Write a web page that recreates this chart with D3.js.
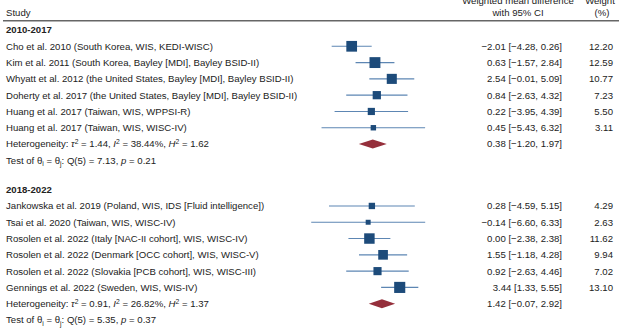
<!DOCTYPE html>
<html><head><meta charset="utf-8">
<script src="https://cdn.jsdelivr.net/npm/d3@7"></script>
<style>
html,body{margin:0;padding:0;background:#fff;}
svg text{font-family:"Liberation Sans",Arial,Helvetica,sans-serif;fill:#222;}
</style></head>
<body><svg id="c" width="619" height="335"></svg>
<script>
// ---- data ----
const groups = ["2010-2017", "2018-2022"];
const studies1 = [
  "Cho et al. 2010 (South Korea, WIS, KEDI-WISC)",
  "Kim et al. 2011 (South Korea, Bayley [MDI], Bayley BSID-II)",
  "Whyatt et al. 2012 (the United States, Bayley [MDI], Bayley BSID-II)",
  "Doherty et al. 2017 (the United States, Bayley [MDI], Bayley BSID-II)",
  "Huang et al. 2017 (Taiwan, WIS, WPPSI-R)",
  "Huang et al. 2017 (Taiwan, WIS, WISC-IV)"
];
const est1 = [-2.01, 0.63, 2.54, 0.84, 0.22, 0.45];
const lo1  = [-4.28, -1.57, -0.01, -2.63, -3.95, -5.43];
const hi1  = [0.26, 2.84, 5.09, 4.32, 4.39, 6.32];
const wt1  = [12.20, 12.59, 10.77, 7.23, 5.50, 3.11];
const studies2 = [
  "Jankowska et al. 2019 (Poland, WIS, IDS [Fluid intelligence])",
  "Tsai et al. 2020 (Taiwan, WIS, WISC-IV)",
  "Rosolen et al. 2022 (Italy [NAC-II cohort], WIS, WISC-IV)",
  "Rosolen et al. 2022 (Denmark [OCC cohort], WIS, WISC-V)",
  "Rosolen et al. 2022 (Slovakia [PCB cohort], WIS, WISC-III)",
  "Gennings et al. 2022 (Sweden, WIS, WIS-IV)"
];
const est2 = [0.28, -0.14, 0.00, 1.55, 0.92, 3.44];
const lo2  = [-4.59, -6.60, -2.38, -1.18, -2.63, 1.33];
const hi2  = [5.15, 6.33, 2.38, 4.28, 4.46, 5.55];
const wt2  = [4.29, 2.63, 11.62, 9.94, 7.02, 13.10];
const pooledEst = [0.38, 1.42];
const pooledLo  = [-1.20, -0.07];
const pooledHi  = [1.97, 2.92];
const tau2 = ["1.44", "0.91"];
const i2   = ["38.44%", "26.82%"];
const h2   = ["1.62", "1.37"];
const qStat = ["7.13", "5.35"];
const qDf = [5, 5];
const pVal = ["0.21", "0.37"];

// ---- build rows ----
const fmt = d3.format(".2f");
const mfmt = v => fmt(v).replace("-", "\u2212");
const rows = [];
const sets = [
  {names: studies1, est: est1, lo: lo1, hi: hi1, wt: wt1},
  {names: studies2, est: est2, lo: lo2, hi: hi2, wt: wt2}
];
sets.forEach((s, g) => {
  const base = g === 0 ? 0 : 9.8;
  rows.push({type: "header", label: groups[g], slot: base});
  s.names.forEach((n, i) => rows.push({type: "study", label: n, est: s.est[i], lo: s.lo[i], hi: s.hi[i], wt: s.wt[i], slot: base + 1 + i}));
  rows.push({type: "pooled", g, est: pooledEst[g], lo: pooledLo[g], hi: pooledHi[g], slot: base + 7});
  rows.push({type: "test", g, slot: base + 8});
});

const svg = d3.select("#c");
const y = d3.scaleLinear().domain([0, 17.8]).range([30, 320]);
const x = d3.scaleLinear().domain([-7, 7]).range([307.7, 431.1]);
const side = d3.scaleSqrt().domain([0, 13.1]).range([0, 11.1]);
const estX = 562, wtX = 613, labX = 6;
const fs = 9.6;

// header
svg.append("text").attr("x", labX).attr("y", 15.5).attr("font-size", fs).text("Study");
svg.append("text").attr("x", 518).attr("y", 3.5).attr("text-anchor", "middle").attr("font-size", fs).text("Weighted mean difference");
svg.append("text").attr("x", 518).attr("y", 15.5).attr("text-anchor", "middle").attr("font-size", fs).text("with 95% CI");
svg.append("text").attr("x", 600).attr("y", 3.5).attr("text-anchor", "middle").attr("font-size", fs).text("Weight");
svg.append("text").attr("x", 602).attr("y", 15.5).attr("text-anchor", "middle").attr("font-size", fs).text("(%)");
svg.append("line").attr("x1", 3).attr("x2", 619).attr("y1", 20.7).attr("y2", 20.7)
  .attr("stroke", "#666").attr("stroke-width", 1.4);

const textY = d => y(d.slot) + 3.4;

rows.forEach(d => {
  if (d.type === "header") {
    svg.append("text").attr("x", labX).attr("y", textY(d)).attr("font-size", fs).attr("font-weight", "bold").text(d.label);
  } else if (d.type === "study") {
    svg.append("text").attr("x", labX).attr("y", textY(d)).attr("font-size", fs).text(d.label);
    svg.append("line").attr("x1", x(d.lo)).attr("x2", x(d.hi)).attr("y1", y(d.slot)).attr("y2", y(d.slot))
      .attr("stroke", "#5d86b3").attr("stroke-width", 1.1);
    const s = side(d.wt);
    svg.append("rect").attr("x", x(d.est) - s / 2).attr("y", y(d.slot) - s / 2).attr("width", s).attr("height", s)
      .attr("fill", "#1d4b7a");
    svg.append("text").attr("x", estX).attr("y", textY(d)).attr("text-anchor", "end").attr("font-size", fs)
      .text(`${mfmt(d.est)} [${mfmt(d.lo)}, ${mfmt(d.hi)}]`);
    svg.append("text").attr("x", wtX).attr("y", textY(d)).attr("text-anchor", "end").attr("font-size", fs).text(fmt(d.wt));
  } else if (d.type === "pooled") {
    const t = svg.append("text").attr("x", labX).attr("y", textY(d)).attr("font-size", fs);
    t.append("tspan").text("Heterogeneity: ");
    t.append("tspan").attr("font-style", "italic").text("\u03C4");
    t.append("tspan").attr("font-size", fs * 0.7).attr("dy", -3.5).text("2");
    t.append("tspan").attr("dy", 3.5).text(` = ${tau2[d.g]}, `);
    t.append("tspan").attr("font-style", "italic").text("I");
    t.append("tspan").attr("font-size", fs * 0.7).attr("dy", -3.5).text("2");
    t.append("tspan").attr("dy", 3.5).text(` = ${i2[d.g]}, `);
    t.append("tspan").attr("font-style", "italic").text("H");
    t.append("tspan").attr("font-size", fs * 0.7).attr("dy", -3.5).text("2");
    t.append("tspan").attr("dy", 3.5).text(` = ${h2[d.g]}`);
    const cy = y(d.slot), hh = 4.5;
    svg.append("path").attr("d", `M${x(d.lo)},${cy}L${x(d.est)},${cy - hh}L${x(d.hi)},${cy}L${x(d.est)},${cy + hh}Z`)
      .attr("fill", "#952f3b");
    svg.append("text").attr("x", estX).attr("y", textY(d)).attr("text-anchor", "end").attr("font-size", fs)
      .text(`${mfmt(d.est)} [${mfmt(d.lo)}, ${mfmt(d.hi)}]`);
  } else if (d.type === "test") {
    const t = svg.append("text").attr("x", labX).attr("y", textY(d)).attr("font-size", fs);
    t.append("tspan").text("Test of \u03B8");
    t.append("tspan").attr("font-size", fs * 0.7).attr("dy", 2.5).text("i");
    t.append("tspan").attr("dy", -2.5).text(" = \u03B8");
    t.append("tspan").attr("font-size", fs * 0.7).attr("dy", 2.5).text("j");
    t.append("tspan").attr("dy", -2.5).text(`: Q(${qDf[d.g]}) = ${qStat[d.g]}, `);
    t.append("tspan").attr("font-style", "italic").text("p");
    t.append("tspan").text(` = ${pVal[d.g]}`);
  }
});
</script></body></html>
